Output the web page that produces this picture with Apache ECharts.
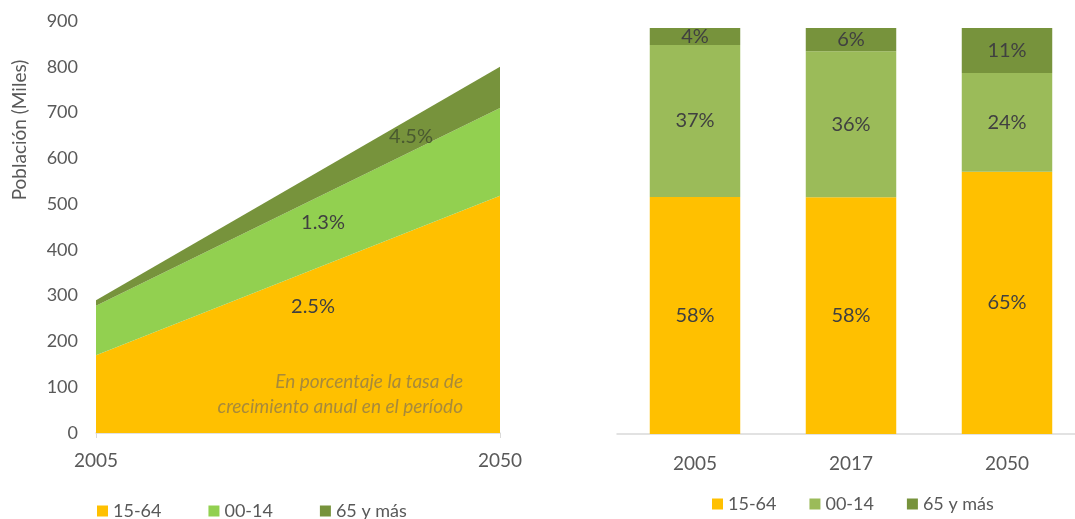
<!DOCTYPE html>
<html><head><meta charset="utf-8">
<script src="https://cdn.jsdelivr.net/npm/echarts@6/dist/echarts.min.js"></script>
<style>html,body{margin:0;padding:0;background:#fff}#c{width:1075px;height:519px}</style>
</head><body><div id="c"></div>
<script>
// Left chart: population (thousands)
const areaYears = ['2005', '2050'];
const area1564 = [170, 518];
const area0014 = [108, 192];
const area65 = [12, 90];
const yTicks = [0, 100, 200, 300, 400, 500, 600, 700, 800, 900];
const growthLabels = ['2.5%', '1.3%', '4.5%'];
const noteLines = ['En porcentaje la tasa de', 'crecimiento anual en el período'];
// Right chart: shares (%)
const barYears = ['2005', '2017', '2050'];
const share1564 = [58.4, 58.3, 64.6];
const share0014 = [37.4, 36.0, 24.3];
const share65 = [4.2, 5.7, 11.1];
const seriesNames = ['15-64', '00-14', '65 y más'];

const FONT = 'Lato, "Open Sans", sans-serif';
const cArea = ['#FFC000', '#92D050', '#77933C'];
const cBar = ['#FFC000', '#9BBB59', '#77933C'];

const chart = echarts.init(document.getElementById('c'));
const pct = p => Math.round(p.value) + '%';
const barLabel = {show: true, position: 'inside', formatter: pct, color: '#404040', fontSize: 20, fontFamily: FONT};
const gText = (x, y, text, fill, extra, rot) => ({type: 'text', x: x, y: y, z: 100, rotation: rot || 0,
  style: Object.assign({text: text, fill: fill, fontSize: 20, fontFamily: FONT, align: 'center', verticalAlign: 'middle'}, extra || {})});

chart.setOption({
  animation: false,
  textStyle: {fontFamily: FONT},
  grid: [
    {left: 96, top: 21, width: 404, height: 412, outerBoundsMode: 'none', containLabel: false},
    {left: 617, top: 28, width: 468, height: 406, outerBoundsMode: 'none', containLabel: false}
  ],
  xAxis: [
    {type: 'category', gridIndex: 0, data: areaYears, boundaryGap: false,
     axisLine: {lineStyle: {color: '#D9D9D9', width: 1.5}},
     axisTick: {show: true, length: 5, lineStyle: {color: '#D9D9D9'}},
     axisLabel: {color: '#595959', fontSize: 19, margin: 18, fontFamily: FONT}},
    {type: 'category', gridIndex: 1, data: barYears,
     axisLine: {lineStyle: {color: '#D9D9D9', width: 1.5}},
     axisTick: {show: false},
     axisLabel: {color: '#595959', fontSize: 19, margin: 20, fontFamily: FONT}}
  ],
  yAxis: [
    {type: 'value', gridIndex: 0, min: yTicks[0], max: yTicks[yTicks.length - 1], interval: 100,
     axisLine: {show: false}, axisTick: {show: false}, splitLine: {show: false},
     axisLabel: {color: '#595959', fontSize: 18, margin: 18, fontFamily: FONT}},
    {type: 'value', gridIndex: 1, min: 0, max: 100, show: false, splitLine: {show: false}}
  ],
  legend: [
    {left: 92, top: 497, itemWidth: 11, itemHeight: 11, itemGap: 47,
     icon: 'rect', textStyle: {color: '#595959', fontSize: 18, fontFamily: FONT},
     data: seriesNames.map((n, i) => ({name: n, itemStyle: {color: cArea[i]}}))},
    {left: 707, top: 490, itemWidth: 11, itemHeight: 11, itemGap: 33,
     icon: 'rect', textStyle: {color: '#595959', fontSize: 18, fontFamily: FONT},
     data: seriesNames.map((n, i) => ({name: n, itemStyle: {color: cBar[i]}}))}
  ],
  series: [
    {name: seriesNames[0], type: 'line', xAxisIndex: 0, yAxisIndex: 0, stack: 'a', data: area1564,
     symbol: 'none', lineStyle: {width: 0}, areaStyle: {color: cArea[0], opacity: 1}, itemStyle: {color: cArea[0]}},
    {name: seriesNames[1], type: 'line', xAxisIndex: 0, yAxisIndex: 0, stack: 'a', data: area0014,
     symbol: 'none', lineStyle: {width: 0}, areaStyle: {color: cArea[1], opacity: 1}, itemStyle: {color: cArea[1]}},
    {name: seriesNames[2], type: 'line', xAxisIndex: 0, yAxisIndex: 0, stack: 'a', data: area65,
     symbol: 'none', lineStyle: {width: 0}, areaStyle: {color: cArea[2], opacity: 1}, itemStyle: {color: cArea[2]}},
    {name: seriesNames[0], type: 'bar', xAxisIndex: 1, yAxisIndex: 1, stack: 'b', data: share1564, barWidth: '58%',
     itemStyle: {color: cBar[0]}, label: barLabel},
    {name: seriesNames[1], type: 'bar', xAxisIndex: 1, yAxisIndex: 1, stack: 'b', data: share0014, barWidth: '58%',
     itemStyle: {color: cBar[1]}, label: barLabel},
    {name: seriesNames[2], type: 'bar', xAxisIndex: 1, yAxisIndex: 1, stack: 'b', data: share65, barWidth: '58%',
     itemStyle: {color: cBar[2]}, label: barLabel}
  ],
  graphic: [
    gText(20, 130, 'Población (Miles)', '#595959', {fontSize: 19}, Math.PI / 2),
    gText(313, 307, growthLabels[0], '#404040'),
    gText(323, 223, growthLabels[1], '#404040'),
    gText(411, 137, growthLabels[2], '#4A5A30'),
    gText(463, 382, noteLines[0], '#A88A3A', {fontSize: 19, fontStyle: 'italic', align: 'right'}),
    gText(463, 407, noteLines[1], '#A88A3A', {fontSize: 19, fontStyle: 'italic', align: 'right'})
  ]
});
</script></body></html>
